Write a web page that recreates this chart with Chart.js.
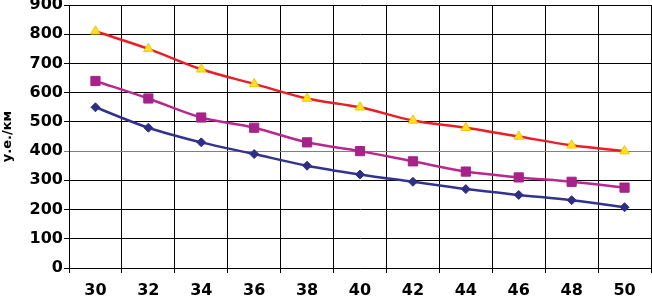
<!DOCTYPE html>
<html>
<head>
<meta charset="utf-8">
<script src="https://cdn.jsdelivr.net/npm/chart.js@4/dist/chart.umd.min.js"></script>
<style>
html,body{margin:0;padding:0;background:#fff;}
#wrap{width:652px;height:302px;position:relative;}
</style>
</head>
<body>
<div id="wrap"><canvas id="c" width="652" height="302"></canvas></div>
<script>
const categories = ['30','32','34','36','38','40','42','44','46','48','50'];
const seriesBlue = [550, 480, 430, 390, 350, 320, 295, 270, 250, 232, 208];
const seriesPurple = [640, 580, 515, 480, 430, 400, 365, 330, 310, 295, 275];
const seriesRed = [810, 750, 680, 630, 580, 550, 505, 480, 450, 420, 400];
const yTitle = 'у.е./км';

const tickFont = {family: 'DejaVu Sans', weight: 'bold', size: 16, lineHeight: 1};

new Chart(document.getElementById('c'), {
  type: 'line',
  data: {
    labels: categories,
    datasets: [
      {data: seriesRed, borderColor: '#EE1C25', backgroundColor: '#FFE31A', pointBorderColor: '#F5C400',
       pointStyle: 'triangle', pointRadius: 5.5, pointBorderWidth: 1, borderWidth: 2.5, tension: 0.35},
      {data: seriesPurple, borderColor: '#B8288F', backgroundColor: '#A8228A', pointBorderColor: '#A8228A',
       pointStyle: 'rect', pointRadius: 6.5, pointBorderWidth: 1, borderWidth: 2.5, tension: 0.35},
      {data: seriesBlue, borderColor: '#33338F', backgroundColor: '#2E2E8A', pointBorderColor: '#2E2E8A',
       pointStyle: 'rectRot', pointRadius: 4.5, pointBorderWidth: 1, borderWidth: 2.5, tension: 0.35}
    ]
  },
  options: {
    responsive: false,
    animation: false,
    layout: {autoPadding: false, padding: {top: 5, right: 1, left: 0, bottom: 0}},
    plugins: {legend: {display: false}, tooltip: {enabled: false}},
    scales: {
      x: {
        offset: true,
        grid: {offset: true, color: '#000', lineWidth: 1, tickLength: 5, drawTicks: true},
        border: {color: '#000', width: 1},
        ticks: {color: '#000', font: tickFont, padding: 10, maxRotation: 0, autoSkip: false},
        afterFit(s){ s.height = 34; s.paddingLeft = 0; s.paddingRight = 0; }
      },
      y: {
        min: 0, max: 900,
        ticks: {stepSize: 100, color: '#000', font: tickFont, padding: 1},
        grid: {color: (ctx) => (ctx.tick && ctx.tick.value === 400) ? '#808080' : '#000', lineWidth: 1, tickLength: 5},
        border: {color: '#000', width: 1},
        title: {display: true, text: yTitle, color: '#000', font: {family: 'DejaVu Sans', weight: 'bold', size: 13}, padding: {top: 0, bottom: 0}},
        afterFit(s){ s.width = 69; s.paddingTop = 0; s.paddingBottom = 0; }
      }
    }
  }
});
</script>
</body>
</html>
